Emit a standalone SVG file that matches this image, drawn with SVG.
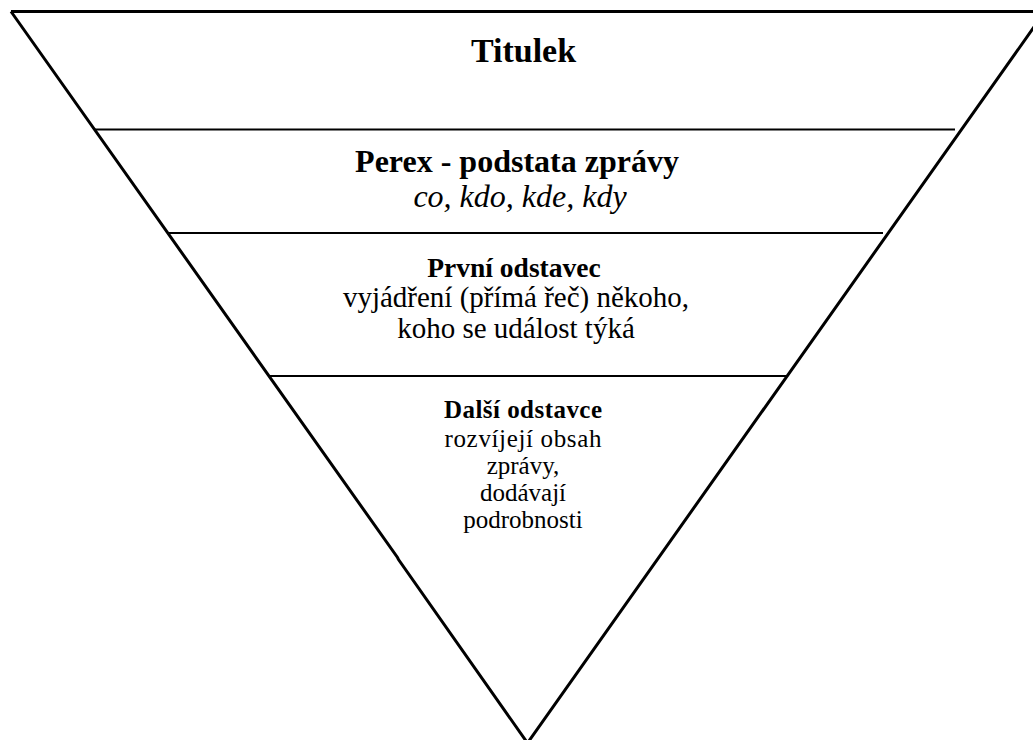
<svg xmlns="http://www.w3.org/2000/svg" width="1033" height="740" viewBox="0 0 1033 740">
<style>
.outer{fill:none;stroke:#000;stroke-width:3;stroke-linejoin:miter}
.div{stroke:#000;stroke-width:2.2;fill:none}
text{font-family:"Liberation Serif","Times New Roman",serif;fill:#000;text-anchor:middle}
.b{font-weight:bold}
.i{font-style:italic}
</style>
<rect x="0" y="0" width="1033" height="740" fill="#fff"/>
<g id="connectors">
<polyline class="outer" points="11,11.5 1045,11.5"/>
<polyline class="outer" points="11,11.5 397.5,557.5 398.5,559.5 527.5,743 1045,11.5"/>
<line class="div" x1="95" y1="129.5" x2="955" y2="129.5"/>
<line class="div" x1="168" y1="233" x2="883" y2="233"/>
<line class="div" x1="268" y1="376" x2="786" y2="376"/>
</g>
<g id="titulek">
<text class="b" x="523.5" y="62" font-size="34">Titulek</text>
</g>
<g id="perex">
<text class="b" x="517" y="172" font-size="32">Perex - podstata zprávy</text>
<text class="i" x="520" y="207" font-size="32">co, kdo, kde, kdy</text>
</g>
<g id="prvni">
<text class="b" x="514" y="277" font-size="27.5">První odstavec</text>
<text x="516" y="307" font-size="29">vyjádření (přímá řeč) někoho,</text>
<text x="516" y="338" font-size="29">koho se událost týká</text>
</g>
<g id="dalsi">
<text class="b" x="523" y="418" font-size="25" textLength="158" lengthAdjust="spacing">Další odstavce</text>
<text x="523" y="447" font-size="25" textLength="157" lengthAdjust="spacing">rozvíjejí obsah</text>
<text x="523" y="474" font-size="25">zprávy,</text>
<text x="523" y="501" font-size="25">dodávají</text>
<text x="523" y="528" font-size="25">podrobnosti</text>
</g>
</svg>
